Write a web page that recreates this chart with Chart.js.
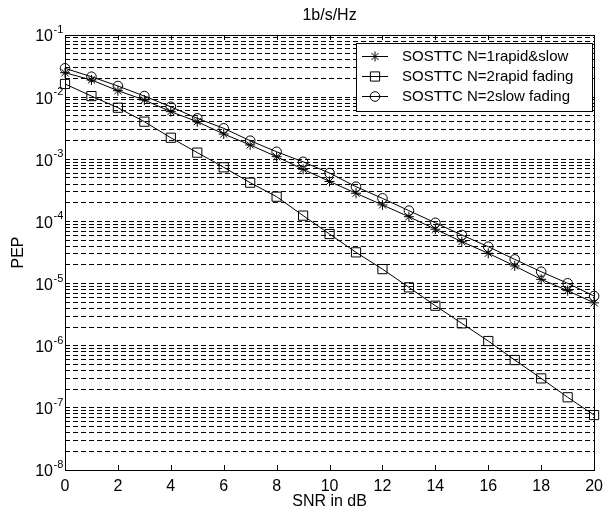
<!DOCTYPE html>
<html>
<head>
<meta charset="utf-8">
<script src="https://cdn.jsdelivr.net/npm/chart.js@4/dist/chart.umd.min.js"></script>
<style>
html,body{margin:0;padding:0;background:#fff;}
#wrap{width:610px;height:517px;}
</style>
</head>
<body>
<div id="wrap"><canvas id="c" width="610" height="517"></canvas></div>
<script>
// ---- data ----
const snrDb = [0,1,2,3,4,5,6,7,8,9,10,11,12,13,14,15,16,17,18,19,20];
const pepN1RapidSlow = [2.47e-2,1.89e-2,1.27e-2,9.0e-3,5.84e-3,4.03e-3,2.55e-3,1.70e-3,1.10e-3,6.9e-4,4.4e-4,2.84e-4,1.84e-4,1.19e-4,7.5e-5,4.72e-5,3.07e-5,1.92e-5,1.17e-5,7.7e-6,4.9e-6];
const pepN2Rapid = [1.63e-2,1.04e-2,6.76e-3,4.03e-3,2.22e-3,1.28e-3,7.43e-4,4.2e-4,2.5e-4,1.24e-4,6.27e-5,3.18e-5,1.71e-5,8.7e-6,4.4e-6,2.29e-6,1.19e-6,5.88e-7,2.98e-7,1.48e-7,7.66e-8];
const pepN2Slow = [2.91e-2,2.13e-2,1.51e-2,1.04e-2,7.0e-3,4.56e-3,3.15e-3,1.99e-3,1.32e-3,9.1e-4,6.0e-4,3.62e-4,2.35e-4,1.49e-4,9.5e-5,6.05e-5,3.92e-5,2.45e-5,1.55e-5,1.01e-5,6.3e-6];
const seriesLabels = ['SOSTTC N=1rapid&slow','SOSTTC N=2rapid fading','SOSTTC N=2slow fading'];
const xTickValues = [0,2,4,6,8,10,12,14,16,18,20];
const yDecadeExponents = [-1,-2,-3,-4,-5,-6,-7,-8];
const yMinorMultipliers = [1,2,3,4,5,6,7,8,9];
const chartTitle = '1b/s/Hz';
const xTitle = 'SNR in dB';
const yTitle = 'PEP';

const FONT = '"Liberation Sans", Arial, sans-serif';
Chart.defaults.color = '#000';
Chart.defaults.font.family = FONT;

function pts(arr){ return snrDb.map((x,i)=>({x:x,y:arr[i]})); }

const markerStyles = ['star','rect','circle'];
const markerRadius = [5,6.5,4.8];
const dataArrays = [pepN1RapidSlow, pepN2Rapid, pepN2Slow];

const datasets = dataArrays.map((arr,i)=>({
  label: seriesLabels[i],
  data: pts(arr),
  borderColor:'#000',
  borderWidth:1,
  backgroundColor:'rgba(0,0,0,0)',
  pointStyle: markerStyles[i],
  pointRadius: markerRadius[i],
  pointBorderColor:'#000',
  pointBackgroundColor:'rgba(0,0,0,0)',
  pointBorderWidth:1,
  tension:0,
  fill:false,
  clip:false
}));

function drawMarker(ctx, style, x, y, r){
  ctx.save();
  ctx.strokeStyle='#000'; ctx.lineWidth=1;
  ctx.beginPath();
  if(style==='star'){
    ctx.moveTo(x-r,y); ctx.lineTo(x+r,y);
    ctx.moveTo(x,y-r); ctx.lineTo(x,y+r);
    const d=r*Math.SQRT1_2;
    ctx.moveTo(x-d,y-d); ctx.lineTo(x+d,y+d);
    ctx.moveTo(x-d,y+d); ctx.lineTo(x+d,y-d);
  } else if(style==='rect'){
    const s=r*Math.SQRT1_2;
    ctx.rect(x-s,y-s,2*s,2*s);
  } else {
    ctx.arc(x,y,r,0,Math.PI*2);
  }
  ctx.stroke();
  ctx.restore();
}

const decor = {
  id:'decor',
  afterDatasetsDraw(chart){
    const ctx=chart.ctx, a=chart.chartArea;
    const xs=chart.scales.x, ys=chart.scales.y;
    ctx.save();
    ctx.strokeStyle='#000'; ctx.lineWidth=1;
    ctx.beginPath();
    xTickValues.forEach(v=>{
      const px=Math.round(xs.getPixelForValue(v))+0.5;
      ctx.moveTo(px,a.bottom); ctx.lineTo(px,a.bottom-5);
      ctx.moveTo(px,a.top); ctx.lineTo(px,a.top+5);
    });
    ctx.stroke();
    ctx.strokeRect(Math.round(a.left)+0.5, Math.round(a.top)+0.5, Math.round(a.right-a.left), Math.round(a.bottom-a.top));
    yDecadeExponents.forEach(e=>{
      const py=ys.getPixelForValue(Math.pow(10,e));
      ctx.fillStyle='#000';
      ctx.font='16px '+FONT;
      ctx.textAlign='right'; ctx.textBaseline='middle';
      ctx.fillText('10', 53, py+2);
      ctx.font='11px '+FONT;
      ctx.textAlign='left';
      ctx.fillText(String(e), 53.5, py-5);
    });
    ctx.font='16px '+FONT;
    ctx.textAlign='center'; ctx.textBaseline='middle';
    ctx.fillText(chartTitle, (a.left+a.right)/2, 16);
    ctx.restore();
  },
  afterDraw(chart){
    const ctx=chart.ctx;
    const bx=356.5, by=43.5, bw=236, bh=68;
    ctx.save();
    ctx.fillStyle='#fff';
    ctx.fillRect(bx,by,bw,bh);
    ctx.strokeStyle='#000'; ctx.lineWidth=1;
    ctx.strokeRect(bx,by,bw,bh);
    chart.data.datasets.forEach((ds,i)=>{
      const cy=Math.round(by+12+i*20)+0.5;
      ctx.beginPath(); ctx.moveTo(362,cy); ctx.lineTo(388,cy); ctx.stroke();
      drawMarker(ctx, markerStyles[i], 375, cy, markerRadius[i]);
      ctx.fillStyle='#000';
      ctx.font='15px '+FONT;
      ctx.textAlign='left'; ctx.textBaseline='middle';
      ctx.fillText(ds.label, 402, cy);
    });
    ctx.restore();
  }
};

new Chart(document.getElementById('c'), {
  type:'line',
  data:{datasets:datasets},
  plugins:[decor],
  options:{
    responsive:false,
    animation:false,
    devicePixelRatio:1,
    layout:{padding:{left:0,right:8,top:35,bottom:0}},
    plugins:{legend:{display:false},tooltip:{enabled:false},title:{display:false}},
    scales:{
      x:{
        type:'linear', min:0, max:20,
        afterBuildTicks(s){ s.ticks = xTickValues.map(v=>({value:v})); },
        afterFit(s){ s.height=47; },
        grid:{display:false, drawTicks:false},
        border:{display:false},
        ticks:{font:{size:16}, padding:7, maxRotation:0, autoSkip:false, color:'#000'},
        title:{display:true, text:xTitle, font:{size:16}, padding:{top:6,bottom:6}, color:'#000'}
      },
      y:{
        type:'logarithmic', min:1e-8, max:1e-1,
        afterBuildTicks(s){
          const t=[];
          yDecadeExponents.slice().reverse().forEach(e=>{
            yMinorMultipliers.forEach(m=>{
              const v=m*Math.pow(10,e);
              if(v<=1e-1*1.0001 && v>=1e-8*0.9999) t.push({value:v});
            });
          });
          s.ticks=t;
        },
        afterFit(s){ s.width=65; },
        ticks:{display:false},
        grid:{display:true, color:'#000', lineWidth:1, drawTicks:false},
        border:{display:false, dash:[5,3]},
        title:{display:true, text:yTitle, font:{size:16}, padding:{top:9,bottom:0}, color:'#000'}
      }
    }
  }
});
</script>
</body>
</html>
